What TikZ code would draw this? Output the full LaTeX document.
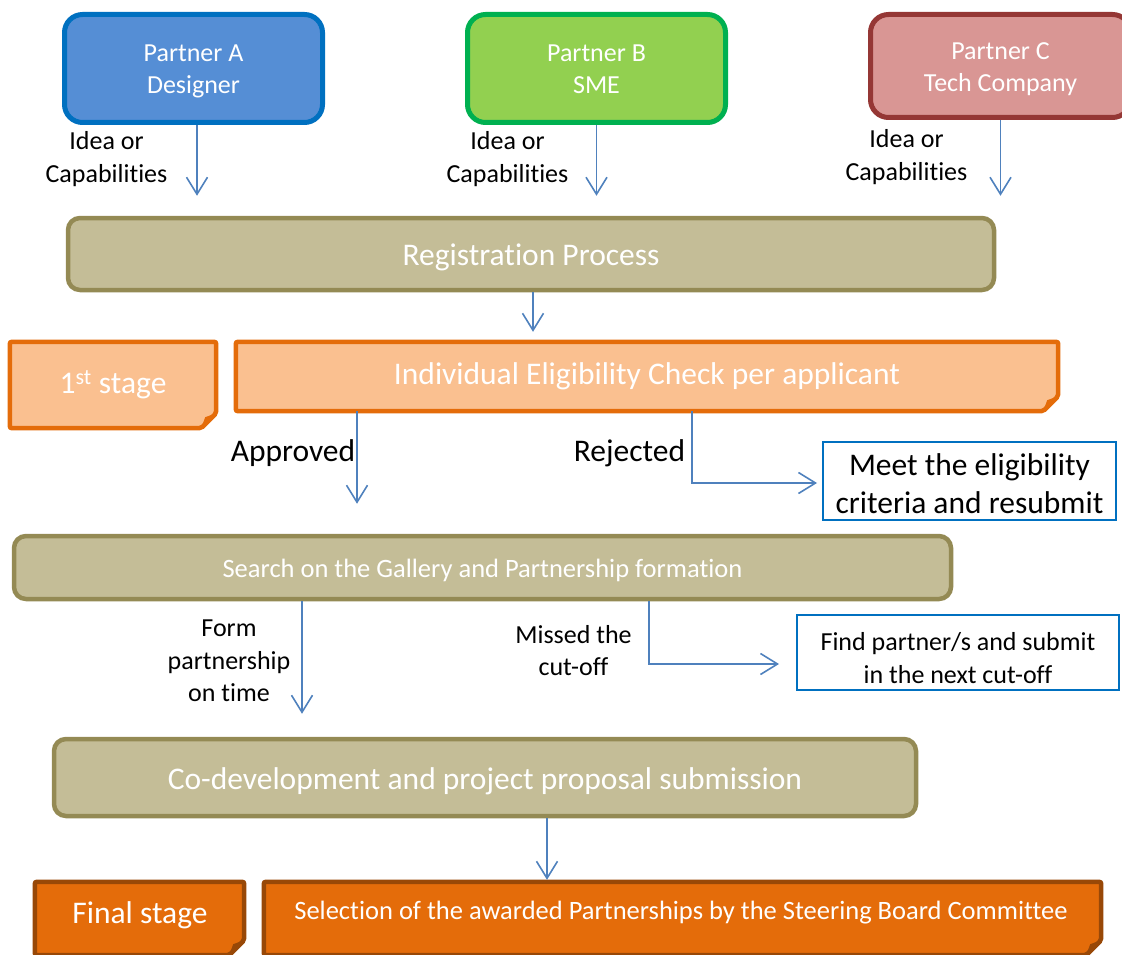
\documentclass[tikz,border=0pt]{standalone}
\usepackage{fontspec}
\setmainfont{Carlito}[Ligatures={NoCommon}]
\usetikzlibrary{positioning}
\usetikzlibrary{arrows.meta}
\usetikzlibrary{backgrounds}

\definecolor{aFill}{HTML}{558ED5}
\definecolor{aLine}{HTML}{0070C0}
\definecolor{bFill}{HTML}{92D050}
\definecolor{bLine}{HTML}{00B050}
\definecolor{cFill}{HTML}{D99694}
\definecolor{cLine}{HTML}{953735}
\definecolor{tanFill}{HTML}{C4BD97}
\definecolor{tanLine}{HTML}{948A54}
\definecolor{lightOrange}{HTML}{FAC090}
\definecolor{orangeLine}{HTML}{E46C0A}
\definecolor{darkOrange}{HTML}{E46C0A}
\definecolor{brownLine}{HTML}{984807}
\definecolor{arrowBlue}{HTML}{4F81BD}
\definecolor{noteBlue}{HTML}{0070C0}

% folded-corner box drawn round an (empty or text) node
\newcommand{\foldbox}[3]{%
  \filldraw[fill=#2, draw=#3, line width=4.5pt, rounded corners=2pt]
    (#1.north west) -- (#1.north east) -- ([yshift=15pt]#1.south east)
    -- ([xshift=-15pt]#1.south east) -- (#1.south west) -- cycle;
  \fill[#3] ([yshift=15pt]#1.south east) -- ([xshift=-15pt]#1.south east)
    -- ([xshift=-11pt,yshift=11pt]#1.south east) -- cycle;
}

\tikzset{
  partner/.style={draw, line width=5pt, rounded corners=18pt, minimum width=258pt,
    minimum height=108pt, text=white, align=center, font=\fontsize{26}{32}\selectfont,
    text height=54pt, text depth=3pt},
  process/.style={draw=tanLine, fill=tanFill, line width=4.5pt, rounded corners=12pt,
    text=white, font=\fontsize{31.5}{38}\selectfont, text height=24pt, text depth=1pt},
  stagebox/.style={inner sep=0pt, text=white, font=\fontsize{31.5}{38}\selectfont},
  note/.style={draw=noteBlue, line width=2pt, fill=white, align=center, text=black},
  caption/.style={align=center, text=black, font=\fontsize{26}{32.5}\selectfont},
  flow/.style={draw=arrowBlue, line width=1.6pt, -{Straight Barb[length=17pt,width=21pt]}},
}

\begin{document}
\begin{tikzpicture}[x=1pt, y=-1pt]
    \useasboundingbox (0,0) rectangle (1122,955);
    \clip (0,0) rectangle (1122,955);
    %% partners
    \node[partner, draw=aLine, fill=aFill] (partA) at (193.5,68.5) {Partner A\\Designer};
    \node[partner, draw=bLine, fill=bFill] (partB) at (596.5,68.5) {Partner B\\SME};
    \node[partner, draw=cLine, fill=cFill, minimum width=260pt, minimum height=103pt]
        (partC) at (1000.5,66) {Partner C\\Tech Company};
    \node[caption] (ideaA) at (106.5,159) {Idea or\\Capabilities};
    \node[caption] (ideaB) at (507.5,159) {Idea or\\Capabilities};
    \node[caption] (ideaC) at (906.5,157) {Idea or\\Capabilities};

    %% registration
    \node[process, minimum width=926pt, minimum height=72pt] (reg) at (531,254) {Registration Process};

    %% 1st stage
    \node[stagebox, minimum width=206pt, minimum height=86pt] (first) at (113,385) {1\textsuperscript{st} stage};
    \node[stagebox, minimum width=822pt, minimum height=69pt] (ind) at (647,376.5)
        {Individual Eligibility Check per applicant};
    \node[font=\fontsize{31.5}{38}\selectfont] (approved) at (293,453) {Approved};
    \node[font=\fontsize{31.5}{38}\selectfont] (rejected) at (629.5,453) {Rejected};
    \node[note, minimum width=293pt, minimum height=78pt] (meet) at (969.5,481) {};
    \node[caption, font=\fontsize{31.5}{38}\selectfont] (meettxt) at (969.5,483.5)
        {Meet the eligibility\\criteria and resubmit};

    %% partnership
    \node[process, minimum width=937pt, minimum height=63pt, font=\fontsize{26.5}{32}\selectfont,
        text height=20pt] (search) at (482.5,567.5) {Search on the Gallery and Partnership formation};
    \node[caption] (formlbl) at (229,661) {Form\\partnership\\on time};
    \node[caption] (missed) at (573.5,650.5) {Missed the\\cut-off};
    \node[note, minimum width=322pt, minimum height=75pt] (find) at (958,652.5) {};
    \node[caption] (findtxt) at (958,658) {Find partner/s and submit\\in the next cut-off};

    \node[process, minimum width=862pt, minimum height=77pt] (codev) at (485,777.5)
        {Co-development and project proposal submission};

    %% final stage
    \node[stagebox, minimum width=209pt, minimum height=73pt] (final) at (139.5,918.5) {};
    \node[stagebox, minimum width=837pt, minimum height=73pt] (select) at (682.5,918.5) {};
    \node[stagebox] (finaltxt) at (140,915) {Final stage};
    \node[stagebox, font=\fontsize{26.5}{32}\selectfont] (selecttxt) at (681,913)
        {Selection of the awarded Partnerships by the Steering Board Committee};

    \begin{scope}[on background layer]
        \foldbox{first}{lightOrange}{orangeLine}
        \foldbox{ind}{lightOrange}{orangeLine}
        \foldbox{final}{darkOrange}{brownLine}
        \foldbox{select}{darkOrange}{brownLine}
    \end{scope}

    % arrows
    \draw[flow, shorten >=20pt] ([xshift=3.5pt]partA.south) -- ([xshift=3.5pt]partA.south |- reg.north);
    \draw[flow, shorten >=20pt] (partB.south) -- (partB.south |- reg.north);
    \draw[flow, shorten >=20pt] (partC.south) -- (partC.south |- reg.north);
    \draw[flow, shorten >=10pt] ([xshift=2pt]reg.south) -- ([xshift=2pt]reg.south |- ind.north);
    \draw[flow, shorten >=30pt] ([xshift=-290pt]ind.south) -- ([xshift=-290pt]ind.south |- search.north);
    \draw[flow, shorten >=5pt] ([xshift=45pt]ind.south) |- ([yshift=-2pt]meet.west);
    \draw[flow, shorten >=23pt] ([xshift=-180.5pt]search.south) -- ([xshift=-180.5pt]search.south |- codev.north);
    \draw[flow, shorten >=17pt] ([xshift=166.5pt]search.south) |- ([yshift=-11.5pt]find.west);
    \draw[flow, shorten >=2pt] ([xshift=62pt]codev.south) -- ([xshift=62pt]codev.south |- select.north);
\end{tikzpicture}
\end{document}
